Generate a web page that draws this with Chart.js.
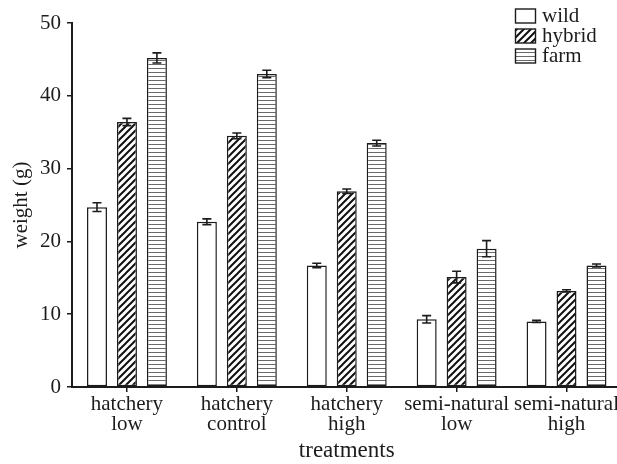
<!DOCTYPE html>
<html><head><meta charset="utf-8">
<script src="https://cdn.jsdelivr.net/npm/chart.js@4"></script>
<style>
html,body{margin:0;padding:0;overflow:hidden;background:#fff;width:617px;height:464px}
#wrap{position:relative;width:622px;height:464px}
canvas{display:block}
</style></head>
<body><div id="wrap"><canvas id="c" width="622" height="464" style="width:622px;height:464px"></canvas></div>
<script>
const categories = [['hatchery','low'],['hatchery','control'],['hatchery','high'],['semi-natural','low'],['semi-natural','high']];
const seriesNames = ['wild','hybrid','farm'];
const wildValues   = [24.7, 22.7, 16.7, 9.3, 9.0];
const wildErrors   = [0.6, 0.4, 0.3, 0.5, 0.15];
const hybridValues = [36.4, 34.5, 26.9, 15.1, 13.2];
const hybridErrors = [0.5, 0.4, 0.3, 0.8, 0.15];
const farmValues   = [45.2, 43.0, 33.5, 19.0, 16.7];
const farmErrors   = [0.7, 0.5, 0.4, 1.1, 0.2];
const yTicks = [0, 10, 20, 30, 40, 50];
const xTitle = 'treatments';
const yTitle = 'weight (g)';

const FONT = "'Liberation Serif','Times New Roman',serif";
const INK = '#1c1c1c';

function hatchPattern() {
  const s = 7, cv = document.createElement('canvas');
  cv.width = s; cv.height = s;
  const g = cv.getContext('2d');
  g.fillStyle = '#fff'; g.fillRect(0, 0, s, s);
  g.strokeStyle = '#111'; g.lineWidth = 2;
  g.beginPath();
  g.moveTo(-1, s + 1); g.lineTo(s + 1, -1);
  g.moveTo(-1, 1); g.lineTo(1, -1);
  g.moveTo(s - 1, s + 1); g.lineTo(s + 1, s - 1);
  g.stroke();
  return g.createPattern(cv, 'repeat');
}
function stripePattern() {
  const cv = document.createElement('canvas');
  cv.width = 4; cv.height = 4;
  const g = cv.getContext('2d');
  g.fillStyle = '#fff'; g.fillRect(0, 0, 4, 4);
  g.fillStyle = '#6a6a6a'; g.fillRect(0, 0, 4, 1);
  return g.createPattern(cv, 'repeat');
}
const fills = ['#ffffff', hatchPattern(), stripePattern()];
const errors = [wildErrors, hybridErrors, farmErrors];

const errorBarPlugin = {
  id: 'errorBars',
  afterDatasetsDraw(chart) {
    const ctx = chart.ctx, ys = chart.scales.y;
    ctx.save();
    ctx.strokeStyle = INK; ctx.lineWidth = 1.6;
    chart.data.datasets.forEach((ds, i) => {
      const meta = chart.getDatasetMeta(i);
      meta.data.forEach((bar, j) => {
        const v = ds.data[j], e = errors[i][j];
        const yt = ys.getPixelForValue(v + e), yb = ys.getPixelForValue(v - e);
        const x = bar.x, w = 4.5;
        ctx.beginPath();
        ctx.moveTo(x, yt); ctx.lineTo(x, yb);
        ctx.moveTo(x - w, yt); ctx.lineTo(x + w, yt);
        ctx.moveTo(x - w, yb); ctx.lineTo(x + w, yb);
        ctx.stroke();
      });
    });
    ctx.restore();
  }
};

const legendPlugin = {
  id: 'boxLegend',
  afterDraw(chart) {
    const ctx = chart.ctx;
    ctx.save();
    ctx.font = '21px ' + FONT;
    ctx.textBaseline = 'alphabetic';
    ctx.textAlign = 'left';
    chart.data.datasets.forEach((ds, i) => {
      const bx = 515.5, by = 9 + i * 20;
      ctx.fillStyle = ds.backgroundColor;
      ctx.fillRect(bx, by, 20, 14);
      ctx.strokeStyle = INK; ctx.lineWidth = 1.4;
      ctx.strokeRect(bx, by, 20, 14);
      ctx.fillStyle = INK;
      ctx.fillText(ds.label, 542, 22 + i * 20);
    });
    ctx.restore();
  }
};

new Chart(document.getElementById('c'), {
  type: 'bar',
  data: {
    labels: categories,
    datasets: seriesNames.map((name, i) => ({
      label: name,
      data: [wildValues, hybridValues, farmValues][i],
      backgroundColor: fills[i],
      borderColor: INK,
      borderWidth: 1.5,
      borderSkipped: false,
      categoryPercentage: 0.818,
      barPercentage: 0.667
    }))
  },
  options: {
    responsive: false,
    animation: false,
    devicePixelRatio: 1,
    layout: { padding: { left: 0, right: 0, top: 23, bottom: 0 } },
    plugins: { legend: { display: false }, tooltip: { enabled: false } },
    scales: {
      x: {
        grid: { display: true, drawOnChartArea: false, drawTicks: true, tickLength: 5, offset: false, color: INK, lineWidth: 1.5 },
        border: { display: true, color: INK, width: 2 },
        ticks: { color: INK, padding: 3, font: { family: FONT, size: 21, lineHeight: 0.95 }, maxRotation: 0, autoSkip: false },
        title: { display: true, text: xTitle, color: INK, font: { family: FONT, size: 23, lineHeight: 1.1 }, padding: { top: 0, bottom: 0 } },
        afterFit(s) { s.height = 77; }
      },
      y: {
        min: 0, max: 50,
        afterBuildTicks(s) { s.ticks = yTicks.map(v => ({ value: v })); },
        grid: { display: true, drawOnChartArea: false, drawTicks: true, tickLength: 5, color: INK, lineWidth: 1.5 },
        border: { display: true, color: INK, width: 2 },
        ticks: { color: INK, padding: 6, font: { family: FONT, size: 21 } },
        title: { display: true, text: yTitle, color: INK, font: { family: FONT, size: 21 }, padding: { top: 9, bottom: 0 } },
        afterFit(s) { s.width = 72; }
      }
    }
  },
  plugins: [errorBarPlugin, legendPlugin]
});
</script>
</body></html>
